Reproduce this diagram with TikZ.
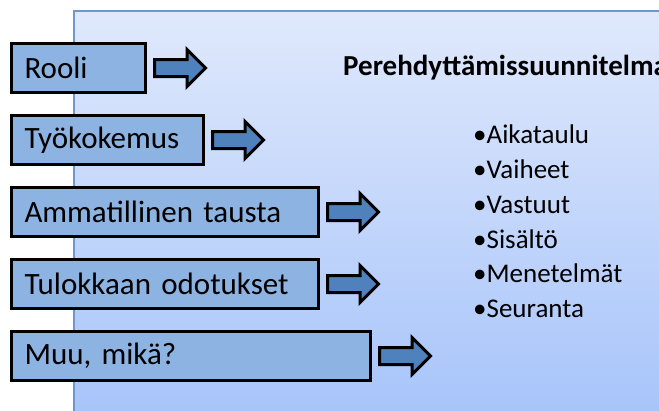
\documentclass[tikz,border=0pt]{standalone}
\usepackage{fontspec}
\setmainfont{Carlito}
\usetikzlibrary{positioning,shapes.arrows}
\definecolor{bgtop}{HTML}{E0E9FC}
\definecolor{bgbottom}{HTML}{A7C4FA}
\definecolor{bgline}{HTML}{6F96CF}
\definecolor{boxblue}{HTML}{8DB3E2}
\definecolor{arrowblue}{HTML}{4F81BD}

\begin{document}
\begin{tikzpicture}[x=1pt, y=-1pt, factor/.style={draw, line width=3pt, fill=boxblue, minimum height=49pt, inner xsep=13pt, inner ysep=2pt, align=left, anchor=north west, font=\fontsize{31}{36}\selectfont}, blockarrow/.style={single arrow, draw, line width=3pt, fill=arrowblue, minimum height=51pt, inner sep=7pt, single arrow head extend=10pt}, item/.style={anchor=base west, inner sep=0pt, font=\fontsize{27}{30}\selectfont}]
\useasboundingbox (0,0) rectangle (659,410);
\shade[top color=bgtop, bottom color=bgbottom] (73,10) rectangle (665,415);
\draw[line width=2pt, bgline] (665,11) -- (74,11) -- (74,415);
% input factors on the left
\node[factor, text width=108pt] (rooli) at (10,42) {Rooli};
\node[factor, text width=166pt, below=20pt of rooli.south west, anchor=north west] (tyokokemus) {Työkokemus};
\node[factor, text width=281pt, below=20pt of tyokokemus.south west, anchor=north west] (tausta) {Ammatillinen tausta};
\node[factor, text width=281pt, below=20pt of tausta.south west, anchor=north west] (odotukset) {Tulokkaan odotukset};
\node[factor, text width=333pt, below=20pt of odotukset.south west, anchor=north west] (muu) {Muu, mikä?};
\node[blockarrow, right=6pt of rooli] (nuoli1) {};
\node[blockarrow, right=6pt of tyokokemus] (nuoli2) {};
\node[blockarrow, right=6pt of tausta] (nuoli3) {};
\node[blockarrow, right=6pt of odotukset] (nuoli4) {};
\node[blockarrow, right=6pt of muu] (nuoli5) {};
% the plan
\node[anchor=base west, inner sep=0pt, font=\bfseries\fontsize{29}{34}\selectfont] (suunnitelma) at (343,75.5) {Perehdyttämissuunnitelma};
\foreach \t [count=\i] in {Aikataulu, Vaiheet, Vastuut, Sisältö, Menetelmät, Seuranta}
  \node[item] (kohta\i) at (473,{143.3+34.9*(\i-1)}) {•\t};
\end{tikzpicture}
\end{document}
